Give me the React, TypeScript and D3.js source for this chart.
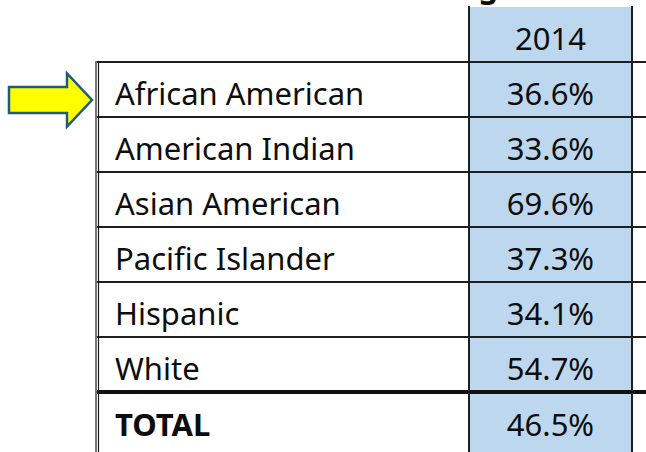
import React from 'react';
import * as d3 from 'd3';

// table data
const categories = ['African American', 'American Indian', 'Asian American', 'Pacific Islander', 'Hispanic', 'White'];
const rates2014 = [36.6, 33.6, 69.6, 37.3, 34.1, 54.7];
const yearLabel = '2014';
const totalLabel = 'TOTAL';
const totalRate = 46.5;
const highlighted = 'African American';

const W = 646;
const H = 452;
const FONT = "'Noto Sans', 'Open Sans', sans-serif";
const INK = '#0d0d0d';

const App: React.FC = () => {
    const tableLeft = 97;
    const colLeft = 469;
    const colRight = 632;
    const headerTop = 7;

    const y = d3.scaleBand<string>().domain(categories).range([62, 392]).paddingInner(0);
    const totalTop = y.range()[1];
    const fmt = (v: number) => d3.format('.1f')(v) + '%';
    const colCenter = (colLeft + colRight) / 2;

    // arrow pointing at the highlighted row
    const ay = (y(highlighted) ?? 0) + 38;
    const arrowPts: [number, number][] = [
        [9, ay - 13], [67, ay - 13], [67, ay - 26.5], [92, ay],
        [67, ay + 26.5], [67, ay + 13], [9, ay + 13],
    ];

    const rowLines = categories.map(c => y(c) ?? 0);

    return (
        <svg width={W} height={H} style={{ position: 'absolute', left: 0, top: 0, background: '#fff' }}>
            {/* title, cut off at the top edge like the source */}
            <text x={110} y={-2} fontFamily={FONT} fontWeight="bold" fontSize={31} fill={INK}>
                Graduation Rates Among Freshmen
            </text>

            {/* shaded year column */}
            <rect x={colLeft} y={headerTop} width={colRight - colLeft} height={H - headerTop} fill="#bdd7ee" />

            {/* horizontal rules */}
            {rowLines.map((ly, i) => (
                <line key={i} x1={tableLeft} x2={W} y1={ly} y2={ly} stroke="#1e1e1e" strokeWidth={2} />
            ))}
            <line x1={tableLeft} x2={W} y1={totalTop} y2={totalTop} stroke="#111" strokeWidth={4} />

            {/* vertical rules */}
            <line x1={tableLeft - 1} x2={tableLeft - 1} y1={rowLines[0] - 1} y2={H} stroke="#1e1e1e" strokeWidth={1.2} />
            <line x1={tableLeft + 1.5} x2={tableLeft + 1.5} y1={rowLines[0] - 1} y2={H} stroke="#1e1e1e" strokeWidth={1.2} />
            <line x1={colLeft} x2={colLeft} y1={headerTop - 1} y2={H} stroke="#1e1e1e" strokeWidth={2} />
            <line x1={colRight} x2={colRight} y1={headerTop - 1} y2={H} stroke="#1e1e1e" strokeWidth={2} />

            {/* header */}
            <text x={colCenter} y={headerTop + 43} textAnchor="middle" fontFamily={FONT} fontSize={31} fill={INK}>
                {yearLabel}
            </text>

            {/* rows */}
            {categories.map((c, i) => (
                <g key={c}>
                    <text x={115} y={(y(c) ?? 0) + 43} fontFamily={FONT} fontSize={31} fill={INK}>{c}</text>
                    <text x={colCenter} y={(y(c) ?? 0) + 43} textAnchor="middle" fontFamily={FONT} fontSize={31} fill={INK}>
                        {fmt(rates2014[i])}
                    </text>
                </g>
            ))}

            {/* total row */}
            <text x={115} y={totalTop + 44} fontFamily={FONT} fontWeight="bold" fontSize={31} fill={INK}>{totalLabel}</text>
            <text x={colCenter} y={totalTop + 44} textAnchor="middle" fontFamily={FONT} fontSize={31} fill={INK}>
                {fmt(totalRate)}
            </text>

            {/* arrow */}
            <polygon points={arrowPts.map(p => p.join(',')).join(' ')} fill="#ffff00" stroke="#215b7c" strokeWidth={2.5} strokeLinejoin="miter" />
        </svg>
    );
};

export default App;
